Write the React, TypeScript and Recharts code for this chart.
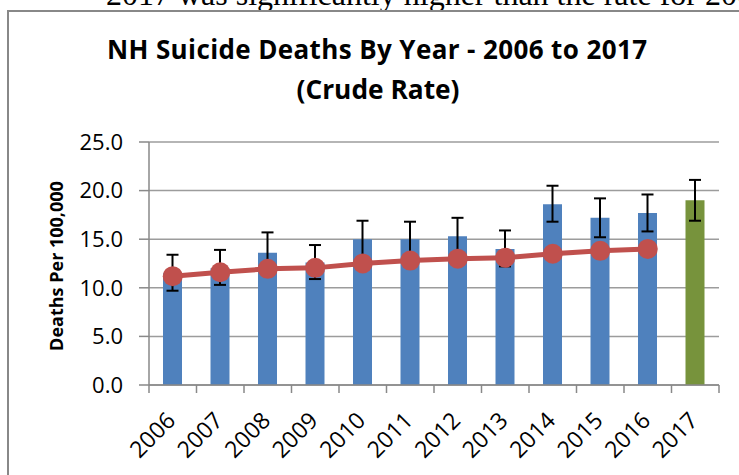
import React from "react";
import {
  ComposedChart,
  Bar,
  Line,
  XAxis,
  YAxis,
  CartesianGrid,
  ErrorBar,
  Cell,
} from "recharts";

// values
const years = ["2006", "2007", "2008", "2009", "2010", "2011", "2012", "2013", "2014", "2015", "2016", "2017"];
const rates = [11.5, 12.0, 13.6, 12.6, 15.0, 15.0, 15.3, 14.0, 18.6, 17.2, 17.7, 19.0];
const ciLow = [9.7, 10.3, 11.5, 10.9, 13.1, 13.2, 13.4, 12.2, 16.8, 15.2, 15.8, 16.9];
const ciHigh = [13.4, 13.9, 15.7, 14.4, 16.9, 16.8, 17.2, 15.9, 20.5, 19.2, 19.6, 21.1];
const trend = [11.2, 11.6, 11.95, 12.05, 12.5, 12.8, 13.0, 13.1, 13.5, 13.8, 14.0, null];
const yTicks = [0, 5, 10, 15, 20, 25];

const W = 739;
const H = 475;
const TOP = 142;
const RIGHT = 20;
const Y_AXIS_W = 149;
const X_AXIS_H = 90;
const AXIS_Y = H - X_AXIS_H;
const BAND = (W - Y_AXIS_W - RIGHT) / years.length;

const FONT = "'Open Sans', sans-serif";
const AXIS_COLOR = "#898989";
const GRID_COLOR = "#9c9c9c";

const data = years.map((year, i) => ({
  year,
  rate: rates[i],
  err: [+(rates[i] - ciLow[i]).toFixed(2), +(ciHigh[i] - rates[i]).toFixed(2)],
  trend: trend[i],
}));

const XTick = (props: any) => {
  const { x, payload, index } = props;
  const half = BAND / 2;
  const tx = x + 4;
  const ty = AXIS_Y + 37;
  return (
    <g>
      <line x1={x - half} x2={x - half} y1={AXIS_Y} y2={AXIS_Y + 8} stroke={AXIS_COLOR} strokeWidth={1.5} />
      {index === years.length - 1 && (
        <line x1={x + half} x2={x + half} y1={AXIS_Y} y2={AXIS_Y + 8} stroke={AXIS_COLOR} strokeWidth={1.5} />
      )}
      <text
        x={tx}
        y={ty}
        textAnchor="end"
        transform={`rotate(-45 ${tx} ${ty})`}
        fontSize={23}
        fontFamily={FONT}
        fill="#000"
      >
        {payload.value}
      </text>
    </g>
  );
};

const YLabel = () => (
  <text
    x={63}
    y={266}
    textAnchor="middle"
    transform="rotate(-90 63 266)"
    fontSize={18}
    fontWeight="bold"
    fontFamily={FONT}
    fill="#000"
  >
    Deaths Per 100,000
  </text>
);

const App: React.FC = () => {
  return (
    <div style={{ position: "absolute", left: 0, top: 0, width: W, height: H, overflow: "hidden", background: "#fff" }}>
      {/* document text above the chart, cut off at the top */}
      <svg width={W} height={H} style={{ position: "absolute", left: 0, top: 0 }}>
        <text x={106} y={5} fontSize={32} fontFamily="'Liberation Serif', serif" fill="#000">
          2017 was significantly higher than the rate for 2006
        </text>
      </svg>
      {/* chart frame */}
      <div
        style={{
          position: "absolute",
          left: 7,
          top: 10,
          width: 900,
          height: 600,
          border: "2px solid #888",
          boxSizing: "border-box",
        }}
      />
      <svg width={W} height={H} style={{ position: "absolute", left: 0, top: 0 }}>
        <text
          x={377}
          y={59}
          textAnchor="middle"
          fontSize={26}
          fontWeight="bold"
          fontFamily={FONT}
          textLength={540}
          lengthAdjust="spacing"
          fill="#000"
        >
          NH Suicide Deaths By Year - 2006 to 2017
        </text>
        <text
          x={378}
          y={99}
          textAnchor="middle"
          fontSize={26}
          fontWeight="bold"
          fontFamily={FONT}
          textLength={163}
          lengthAdjust="spacingAndGlyphs"
          fill="#000"
        >
          (Crude Rate)
        </text>
      </svg>
      <div style={{ position: "absolute", left: 0, top: 0 }}>
        <ComposedChart width={W} height={H} data={data} margin={{ top: TOP, right: RIGHT, left: 0, bottom: 0 }}>
          <CartesianGrid vertical={false} stroke={GRID_COLOR} strokeWidth={1.5} />
          <XAxis
            dataKey="year"
            height={X_AXIS_H}
            interval={0}
            tickLine={false}
            axisLine={{ stroke: AXIS_COLOR, strokeWidth: 1.5 }}
            tick={<XTick />}
          />
          <YAxis
            width={Y_AXIS_W}
            domain={[0, 25]}
            ticks={yTicks}
            interval={0}
            tickFormatter={(v: number) => v.toFixed(1)}
            tickSize={10}
            tickMargin={16}
            tick={{ fill: "#000", fontSize: 22, fontFamily: FONT }}
            tickLine={{ stroke: AXIS_COLOR, strokeWidth: 1.5 }}
            axisLine={{ stroke: AXIS_COLOR, strokeWidth: 1.5 }}
            label={<YLabel />}
          />
          <Bar dataKey="rate" barSize={19} isAnimationActive={false}>
            {data.map((d, i) => (
              <Cell key={d.year} fill={i === years.length - 1 ? "#77933C" : "#4F81BD"} />
            ))}
            <ErrorBar dataKey="err" width={6} stroke="#000" strokeWidth={2} direction="y" />
          </Bar>
          <Line
            dataKey="trend"
            stroke="#C0504D"
            strokeWidth={5}
            dot={{ r: 10, fill: "#C0504D", stroke: "#C0504D", strokeWidth: 0 }}
            activeDot={false}
            isAnimationActive={false}
          />
        </ComposedChart>
      </div>
    </div>
  );
};

export default App;
